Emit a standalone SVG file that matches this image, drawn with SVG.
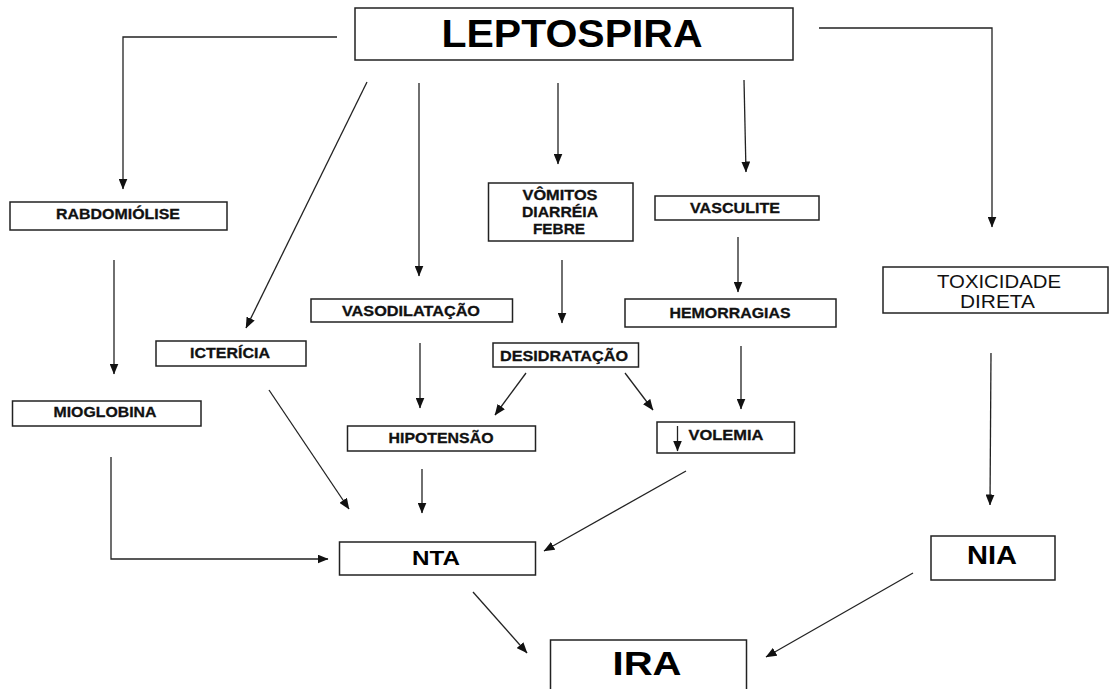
<svg xmlns="http://www.w3.org/2000/svg" width="1110" height="689" viewBox="0 0 1110 689">
<defs>
<marker id="ah" markerWidth="11" markerHeight="9" refX="10.5" refY="4.5" orient="auto" markerUnits="userSpaceOnUse">
<path d="M0,0 L11,4.5 L0,9 z" fill="#111"/>
</marker>
<style>
.box{fill:#fff;stroke:#222;stroke-width:1.5}
.lbl{font-family:"Liberation Sans",Arial,sans-serif;font-weight:bold;font-size:15.5px;fill:#111;stroke:#111;stroke-width:0.3;text-anchor:middle}
.reg{font-family:"Liberation Sans",Arial,sans-serif;font-size:18.5px;fill:#111;text-anchor:middle}
.big{font-family:"Liberation Sans",Arial,sans-serif;font-weight:bold;fill:#000;text-anchor:middle}
.c{fill:none;stroke:#222;stroke-width:1.3;marker-end:url(#ah)}
</style>
</defs>
<rect width="1110" height="689" fill="#fff"/>
<g id="connectors">
<polyline class="c" points="337,37 123,37 123,189"/>
<polyline class="c" points="819,28 992,28 992,227"/>
<line class="c" x1="367" y1="82" x2="246" y2="328"/>
<line class="c" x1="419" y1="83" x2="419" y2="276"/>
<line class="c" x1="558" y1="83" x2="558" y2="164"/>
<line class="c" x1="744" y1="80" x2="746" y2="172"/>
<line class="c" x1="114" y1="260" x2="114" y2="374"/>
<polyline class="c" points="111,457 111,559 328,559"/>
<line class="c" x1="269" y1="390" x2="349" y2="509"/>
<line class="c" x1="420" y1="343" x2="420" y2="408"/>
<line class="c" x1="562" y1="260" x2="562" y2="323"/>
<line class="c" x1="526" y1="373" x2="495" y2="415"/>
<line class="c" x1="625" y1="373" x2="653" y2="410"/>
<line class="c" x1="738" y1="237" x2="738" y2="292"/>
<line class="c" x1="741" y1="346" x2="741" y2="409"/>
<line class="c" x1="422" y1="469" x2="422" y2="513"/>
<line class="c" x1="686" y1="471" x2="544" y2="551"/>
<line class="c" x1="991" y1="353" x2="990" y2="505"/>
<line class="c" x1="473" y1="592" x2="527" y2="653"/>
<line class="c" x1="913" y1="573" x2="766" y2="657"/>
</g>
<g id="leptospira">
<rect class="box" x="355" y="8" width="438" height="52"/>
<text class="big" x="572" y="47" font-size="38" textLength="261" lengthAdjust="spacingAndGlyphs">LEPTOSPIRA</text>
</g>
<g id="rabdomiolise">
<rect class="box" x="10" y="202" width="217" height="28"/>
<text class="lbl" x="118" y="219" textLength="124" lengthAdjust="spacingAndGlyphs">RABDOMIÓLISE</text>
</g>
<g id="mioglobina">
<rect class="box" x="12.5" y="401" width="188.5" height="25"/>
<text class="lbl" x="105" y="417" textLength="103" lengthAdjust="spacingAndGlyphs">MIOGLOBINA</text>
</g>
<g id="ictericia">
<rect class="box" x="156" y="341" width="150" height="25"/>
<text class="lbl" x="230" y="358" textLength="80" lengthAdjust="spacingAndGlyphs">ICTERÍCIA</text>
</g>
<g id="vasodilatacao">
<rect class="box" x="311" y="299" width="201.5" height="23"/>
<text class="lbl" x="411" y="315.5" textLength="138" lengthAdjust="spacingAndGlyphs">VASODILATAÇÃO</text>
</g>
<g id="vomitos">
<rect class="box" x="488.5" y="183" width="144.5" height="58"/>
<text class="lbl" x="560" y="200" textLength="75" lengthAdjust="spacingAndGlyphs">VÔMITOS</text>
<text class="lbl" x="560" y="217" textLength="76" lengthAdjust="spacingAndGlyphs">DIARRÉIA</text>
<text class="lbl" x="559" y="234" textLength="52" lengthAdjust="spacingAndGlyphs">FEBRE</text>
</g>
<g id="desidratacao">
<rect class="box" x="493" y="343" width="145.5" height="24"/>
<text class="lbl" x="564" y="360.5" textLength="128" lengthAdjust="spacingAndGlyphs">DESIDRATAÇÃO</text>
</g>
<g id="hipotensao">
<rect class="box" x="347.5" y="426" width="188" height="25"/>
<text class="lbl" x="441" y="443" textLength="105" lengthAdjust="spacingAndGlyphs">HIPOTENSÃO</text>
</g>
<g id="vasculite">
<rect class="box" x="655" y="196" width="164" height="24"/>
<text class="lbl" x="735" y="213" textLength="90" lengthAdjust="spacingAndGlyphs">VASCULITE</text>
</g>
<g id="hemorragias">
<rect class="box" x="625" y="299" width="211" height="28"/>
<text class="lbl" x="730" y="317.5" textLength="121" lengthAdjust="spacingAndGlyphs">HEMORRAGIAS</text>
</g>
<g id="volemia">
<rect class="box" x="657" y="422" width="137.5" height="31"/>
<line class="c" x1="677.5" y1="426" x2="677.5" y2="451"/>
<text class="lbl" x="726" y="439.5" textLength="75" lengthAdjust="spacingAndGlyphs">VOLEMIA</text>
</g>
<g id="toxicidade">
<rect class="box" x="883" y="267" width="225" height="46"/>
<text class="reg" x="999" y="287.5" textLength="124" lengthAdjust="spacingAndGlyphs">TOXICIDADE</text>
<text class="reg" x="997.5" y="307.5" textLength="75" lengthAdjust="spacingAndGlyphs">DIRETA</text>
</g>
<g id="nta">
<rect class="box" x="339.5" y="542" width="196" height="33"/>
<text class="big" x="436" y="565" font-size="21" textLength="48" lengthAdjust="spacingAndGlyphs">NTA</text>
</g>
<g id="nia">
<rect class="box" x="931" y="536" width="124" height="44"/>
<text class="big" x="992" y="564" font-size="25" textLength="50" lengthAdjust="spacingAndGlyphs">NIA</text>
</g>
<g id="ira">
<rect class="box" x="550.5" y="640" width="196" height="60"/>
<text class="big" x="647" y="675" font-size="33" textLength="69" lengthAdjust="spacingAndGlyphs">IRA</text>
</g>
</svg>
